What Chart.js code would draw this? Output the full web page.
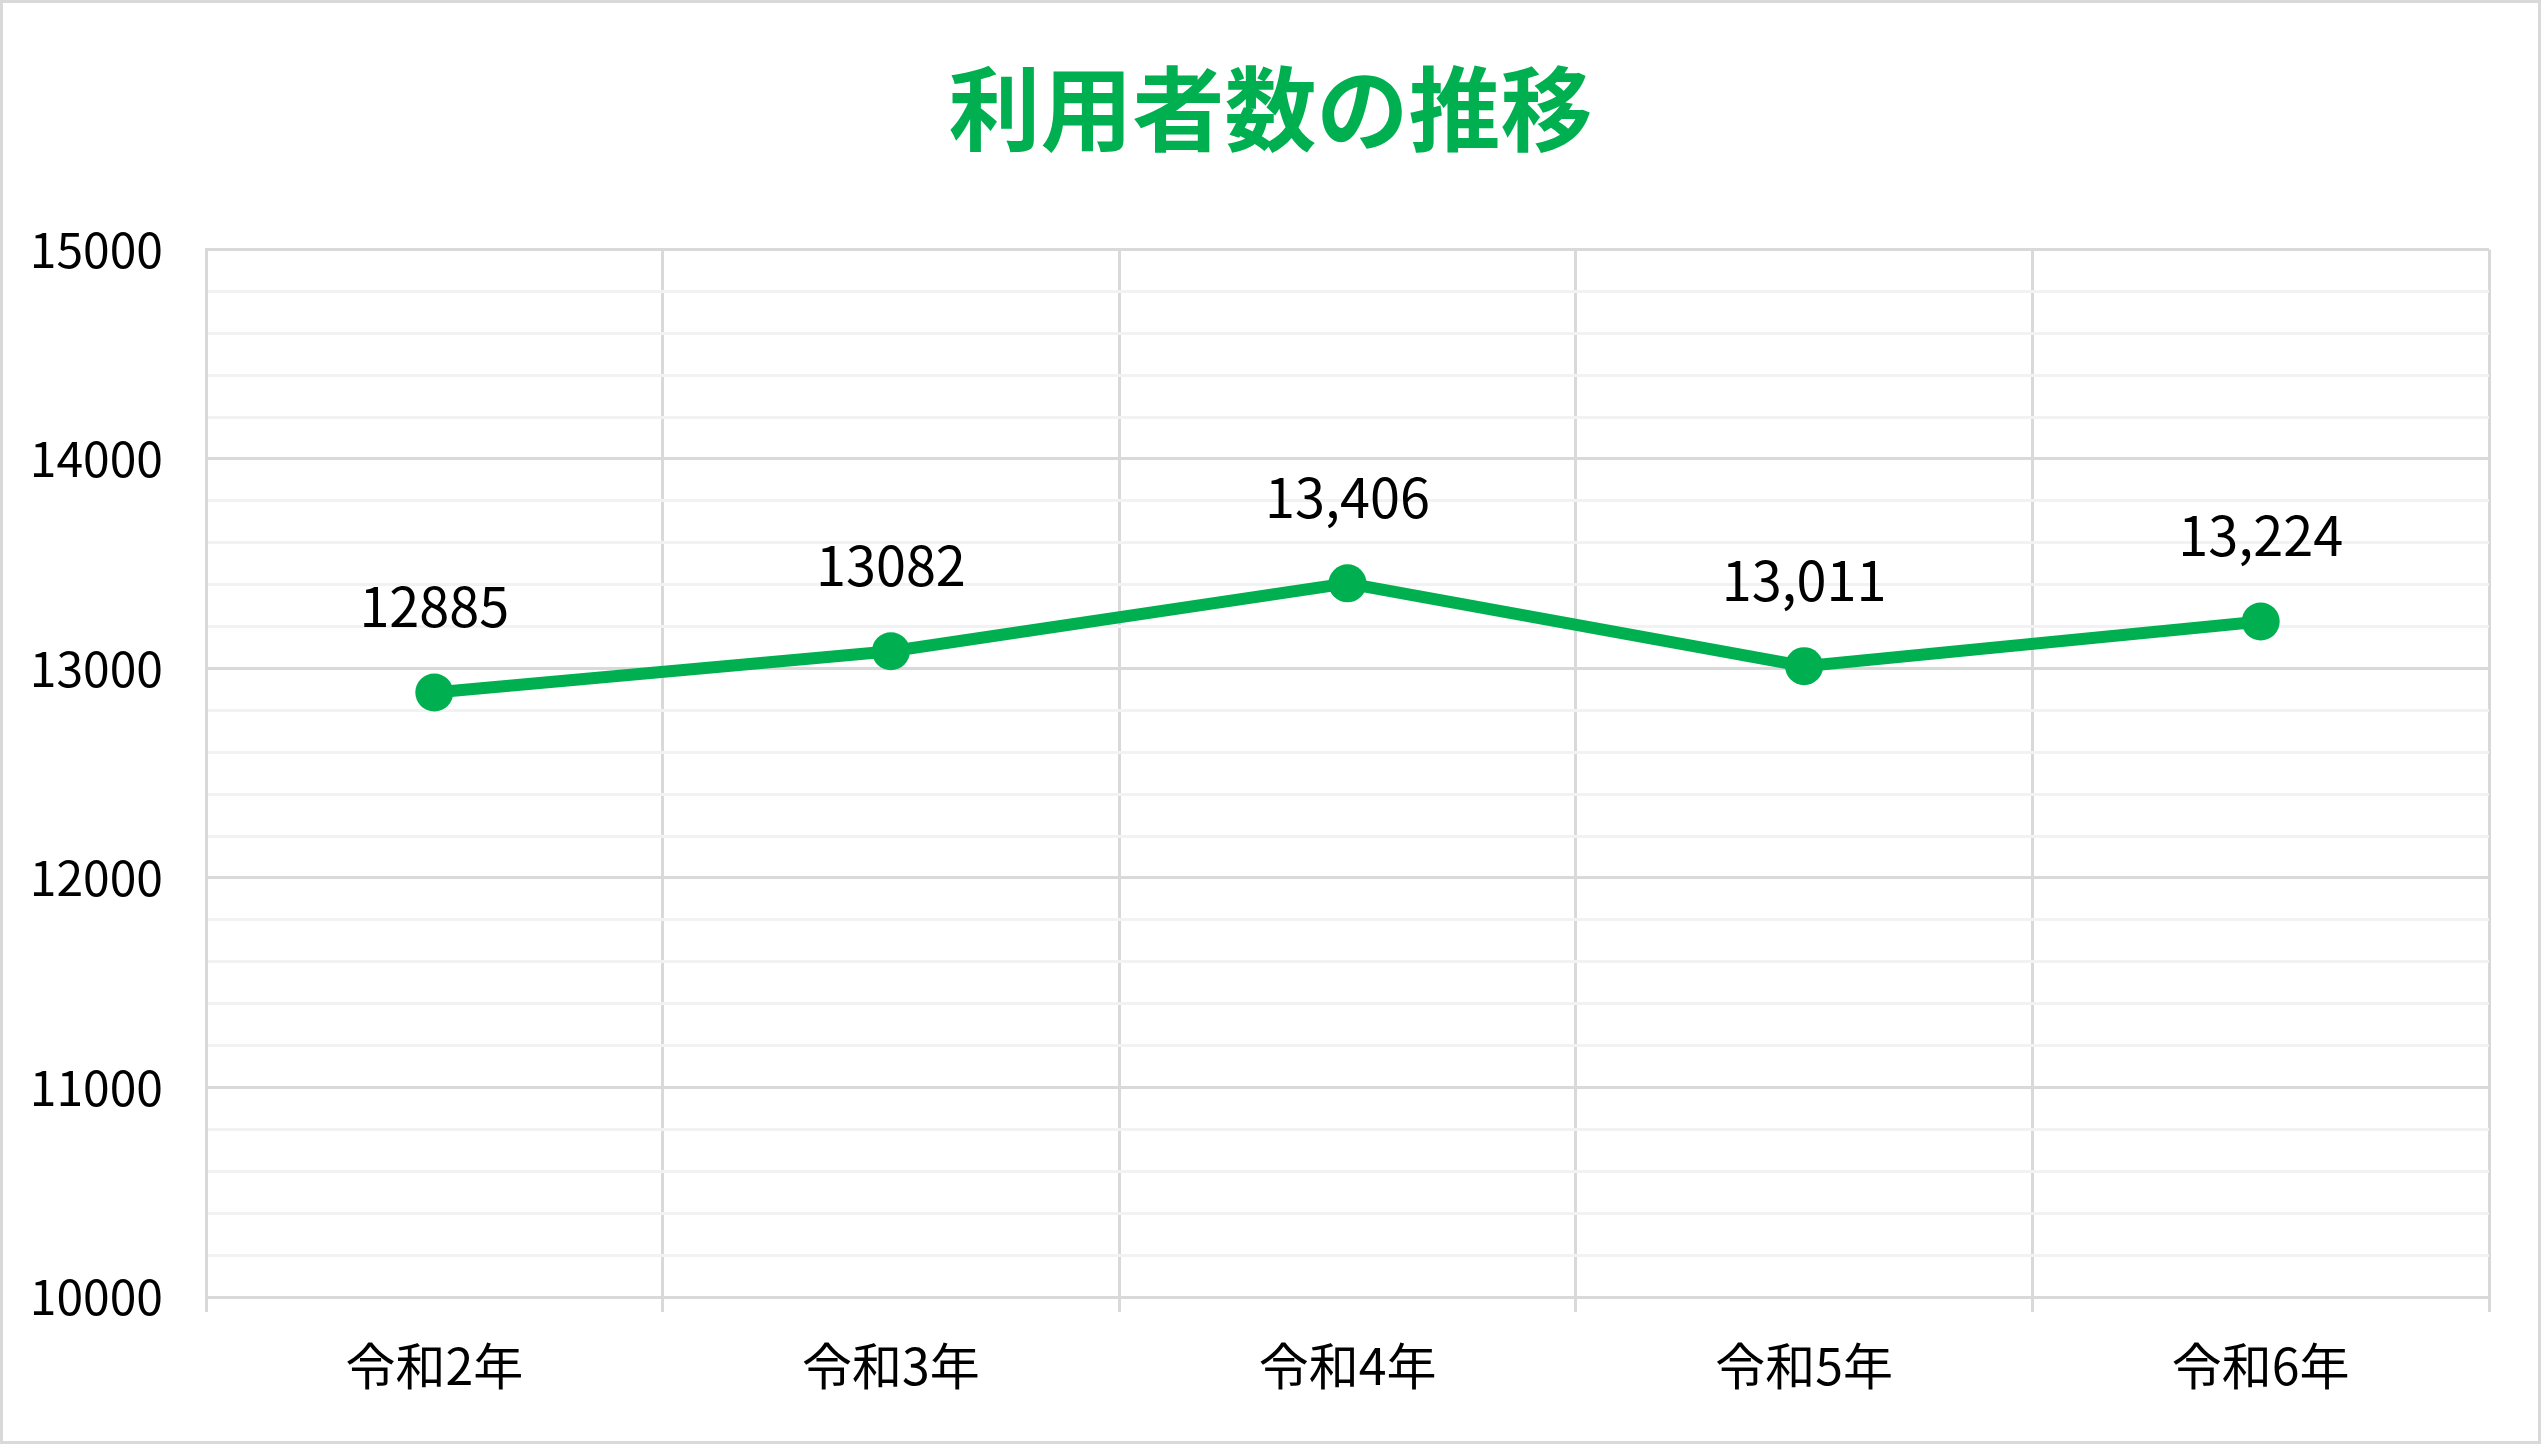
<!DOCTYPE html>
<html lang="ja">
<head>
<meta charset="utf-8">
<title>利用者数の推移</title>
<script src="https://cdn.jsdelivr.net/npm/chart.js@4/dist/chart.umd.min.js"></script>
<style>
  html, body { margin: 0; padding: 0; background: #ffffff; }
  #wrap { position: relative; width: 2541px; height: 1444px; }
  canvas { display: block; }
</style>
</head>
<body>
<div id="wrap"><canvas id="c" width="2541" height="1444"></canvas></div>
<script>
// ---- data ----
const titleText = '利用者数の推移';
const categories = ['令和2年', '令和3年', '令和4年', '令和5年', '令和6年'];
const users = [12885, 13082, 13406, 13011, 13224];
const labelUsesComma = [false, false, true, true, true];
const yMin = 10000;
const yMax = 15000;
const yMajorStep = 1000;
const yMinorStep = 200;

// ---- style ----
const GREEN = '#00B050';
const FONT = '"Noto Sans CJK JP", "Noto Sans", sans-serif';
const MAJOR = '#d9d9d9';
const MINOR = '#f2f2f2';

function fmt(v, comma) {
  return comma ? v.toLocaleString('en-US') : String(v);
}

const pointLabels = {
  id: 'pointLabels',
  afterDatasetsDraw(chart) {
    const ctx = chart.ctx;
    const meta = chart.getDatasetMeta(0);
    ctx.save();
    ctx.font = '54px ' + FONT;
    ctx.fillStyle = '#000000';
    ctx.textAlign = 'center';
    ctx.textBaseline = 'middle';
    meta.data.forEach((pt, i) => {
      ctx.fillText(fmt(users[i], labelUsesComma[i]), pt.x, pt.y - 86);
    });
    ctx.restore();
  }
};

const outerBorder = {
  id: 'outerBorder',
  afterDraw(chart) {
    const ctx = chart.ctx;
    ctx.save();
    ctx.strokeStyle = MAJOR;
    ctx.lineWidth = 3;
    ctx.strokeRect(1.5, 1.5, chart.width - 3, chart.height - 3);
    ctx.restore();
  }
};

new Chart(document.getElementById('c'), {
  type: 'line',
  data: {
    labels: categories,
    datasets: [{
      label: titleText,
      data: users,
      borderColor: GREEN,
      backgroundColor: GREEN,
      borderWidth: 12,
      pointRadius: 19,
      pointHoverRadius: 19,
      pointBackgroundColor: GREEN,
      pointBorderColor: GREEN,
      pointBorderWidth: 0,
      tension: 0,
      fill: false
    }]
  },
  options: {
    responsive: false,
    animation: false,
    devicePixelRatio: 1,
    layout: { padding: { left: 0, right: 0, top: 0, bottom: 0 } },
    plugins: {
      legend: { display: false },
      tooltip: { enabled: false },
      title: {
        display: true,
        text: titleText,
        color: GREEN,
        font: { family: FONT, size: 92, weight: 'bold', lineHeight: 1.2 },
        padding: { top: 54, bottom: 85 }
      }
    },
    scales: {
      x: {
        offset: true,
        grid: {
          offset: true,
          color: MAJOR,
          lineWidth: 3,
          drawTicks: true,
          tickLength: 15,
          tickColor: MAJOR,
          tickWidth: 3
        },
        border: { color: MAJOR, width: 3 },
        ticks: {
          color: '#000000',
          font: { family: FONT, size: 50 },
          padding: 24,
          maxRotation: 0,
          autoSkip: false
        },
        afterFit(scale) { scale.height = 147; }
      },
      y: {
        min: yMin,
        max: yMax,
        grid: {
          color: (c) => (c.tick && c.tick.value % yMajorStep === 0) ? MAJOR : MINOR,
          lineWidth: 3,
          drawTicks: false
        },
        border: { color: MAJOR, width: 3 },
        ticks: {
          stepSize: yMinorStep,
          autoSkip: false,
          color: '#000000',
          font: { family: FONT, size: 48 },
          padding: 43,
          callback: (v) => (v % yMajorStep === 0) ? String(v) : ''
        },
        afterFit(scale) { scale.width = 206; }
      },
      yRightSpace: {
        type: 'linear',
        position: 'right',
        min: yMin,
        max: yMax,
        grid: { display: false, drawTicks: false },
        border: { display: false },
        ticks: { display: false },
        afterFit(scale) { scale.width = 52; }
      }
    }
  },
  plugins: [pointLabels, outerBorder]
});
</script>
</body>
</html>
